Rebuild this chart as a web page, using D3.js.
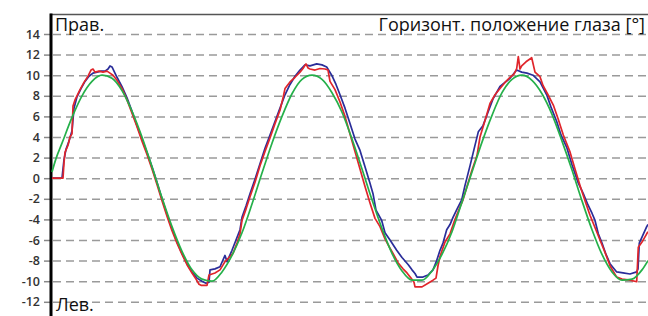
<!DOCTYPE html>
<html>
<head>
<meta charset="utf-8">
<script src="https://cdn.jsdelivr.net/npm/d3@7"></script>
<style>
  body { margin: 0; background: #fff; }
  svg { display: block; }
</style>
</head>
<body>
<svg width="648" height="316"></svg>
<script>
  // tick values on the y axis (degrees)
  const yTicks = [-12, -10, -8, -6, -4, -2, 0, 2, 4, 6, 8, 10, 12, 14];

  // green: target (stimulus) position
  const greenT = [2, 6, 12, 22, 32, 42, 52, 62, 72, 82, 92, 102, 112, 122, 132, 142, 152, 162, 172, 182,
    192, 202, 212, 222, 232, 242, 252, 262, 272, 282, 292, 302, 312, 322, 332, 342, 352, 362, 372, 382,
    392, 402, 412, 422, 432, 442, 452, 462, 472, 482, 492, 502, 512, 522, 532, 542, 552, 562, 572, 582,
    592, 598];
  const greenV = [0.6, 1.9, 3.4, 5.9, 8.0, 9.4, 10.0, 9.7, 8.5, 6.5, 4.0, 1.1, -1.9, -4.7, -7.1, -8.9,
    -9.8, -10.0, -9.1, -7.5, -5.3, -2.5, 0.5, 3.4, 6.0, 8.2, 9.6, 10.0, 9.6, 8.3, 6.4, 3.8, 0.9, -2.1,
    -4.9, -7.3, -9.0, -9.9, -9.9, -9.0, -7.4, -5.2, -2.3, 0.6, 3.5, 6.1, 8.3, 9.6, 10.0, 9.5, 8.2, 6.2,
    3.6, 0.8, -2.2, -5.0, -7.4, -9.1, -9.9, -9.8, -8.9, -8.0];

  // red: right eye
  const redT = [2, 13, 14, 15, 18, 20, 22, 23, 25, 27, 30, 34, 38, 41, 43, 45, 49, 53, 57, 60, 63, 67, 72,
    77, 82, 87, 92, 97, 102, 107, 112, 117, 122, 127, 132, 137, 142, 146, 149, 151, 157, 159, 165, 170, 175,
    179, 183, 187, 190, 192, 196, 200, 205, 210, 215, 220, 225, 230, 233, 235, 240, 245, 250, 253, 256,
    258, 260, 265, 270, 275, 278, 280, 285, 290, 295, 300, 305, 310, 315, 320, 325, 330, 335, 340, 343,
    348, 353, 357, 361, 364, 365, 372, 378, 383, 386, 388, 390, 395, 400, 405, 410, 413, 417, 422, 427,
    430, 435, 440, 445, 450, 455, 460, 464, 466.7, 468.3, 470, 471.7, 476, 481.7, 485, 490, 493, 498,
    503.3, 508, 513.3, 520, 525, 530, 535, 540, 546.7, 550, 555, 560, 566.7, 572, 580, 586.7, 588.3, 592,
    596.7, 598];
  const redV = [0, 0, 1.5, 2.5, 3.2, 4.0, 4.3, 7.0, 7.6, 8.0, 8.6, 9.3, 9.9, 10.5, 10.6, 10.3, 10.4, 10.3,
    10.4, 10.2, 10.0, 9.5, 8.7, 7.6, 6.3, 5.0, 3.6, 2.3, 0.9, -0.6, -2.2, -3.7, -5.1, -6.3, -7.4, -8.4,
    -9.2, -9.8, -10.3, -10.4, -10.4, -9.4, -9.2, -8.9, -8.1, -7.7, -7.3, -6.3, -5.4, -4.1, -3.0, -1.8, -0.4,
    1.2, 2.6, 3.9, 5.3, 6.6, 7.8, 8.7, 9.35, 9.8, 10.3, 10.65, 11.1, 10.7, 10.6, 10.5, 10.65, 10.6, 10.5,
    9.4, 8.6, 7.4, 6.0, 4.3, 2.6, 0.9, -0.8, -2.4, -3.9, -4.7, -5.9, -6.8, -7.3, -8.2, -8.8, -9.2, -9.7,
    -10.1, -10.55, -10.55, -10.2, -9.9, -9.7, -8.5, -7.6, -6.2, -5.4, -4.0, -2.8, -2.1, -0.8, 0.8, 2.2,
    4.0, 5.6, 7.25, 8.1, 8.7, 9.3, 9.8, 10.1, 10.65, 11.8, 10.6, 10.9, 11.3, 11.7, 10.3, 9.85, 9.0, 8.1,
    7.1, 5.8, 4.2, 2.55, 0.9, -0.7, -2.2, -3.6, -5.2, -6.0, -7.2, -8.5, -9.6, -9.8, -9.9, -10.05, -6.7,
    -6.2, -5.4, -5.2];

  // blue: left eye
  const blueT = [2, 12, 14, 16, 19, 22, 24, 27, 31, 35, 39, 43, 47, 51, 55, 58, 60, 62, 64, 67, 72, 77, 82,
    87, 92, 97, 102, 107, 112, 117, 122, 127, 132, 137, 142, 147, 152, 156, 159, 160, 165, 170, 175, 177,
    182, 186, 190, 192, 196, 200, 205, 210, 215, 220, 225, 230, 235, 240, 245, 250, 255, 260, 266.7, 272,
    276.7, 281.7, 286, 290, 295, 300, 305, 310, 315, 320, 323, 326, 331.7, 335, 340, 346.7, 352, 358.3,
    362, 365, 367, 373, 378, 383, 386.7, 390, 393, 396.7, 400, 403, 407, 411.7, 415, 420, 424, 428.3, 433,
    438, 443, 450, 455, 460, 466.7, 471.7, 477, 483, 490, 496.7, 501, 506.7, 511, 516.7, 522, 528, 533.3,
    538, 542, 545, 548.3, 552, 556, 560, 566.7, 573, 580, 586.7, 588, 589.3, 593, 596.7, 598];
  const blueV = [0, 0, 1.8, 2.8, 3.6, 4.6, 6.8, 7.9, 8.7, 9.4, 9.9, 10.2, 10.3, 10.4, 10.4, 10.6, 10.9,
    10.8, 10.4, 9.8, 8.9, 7.8, 6.5, 5.1, 3.8, 2.5, 1.1, -0.4, -2.0, -3.5, -4.9, -6.2, -7.3, -8.3, -9.1,
    -9.7, -10.0, -10.2, -10.1, -8.9, -8.8, -8.6, -7.5, -8.1, -7.0, -6.0, -5.0, -3.8, -2.7, -1.5, -0.1, 1.4,
    2.9, 4.2, 5.5, 6.8, 8.1, 9.1, 9.9, 10.5, 11.0, 10.9, 11.1, 11.0, 10.8, 10.0, 9.1, 8.1, 6.8, 5.3, 3.8,
    2.7, 1.1, -0.5, -1.5, -3.1, -4.1, -5.3, -6.0, -7.0, -7.7, -8.4, -8.9, -9.25, -9.6, -9.6, -9.4, -8.9,
    -8.0, -7.0, -6.3, -5.0, -4.5, -3.8, -3.0, -2.1, -0.7, 1.2, 2.8, 4.5, 5.1, 6.4, 7.7, 8.9, 9.3, 9.7,
    10.5, 10.3, 10.2, 10.0, 9.35, 8.1, 6.9, 5.5, 4.2, 3.0, 1.3, -0.4, -1.5, -2.6, -3.4, -4.1, -5.4, -6.3,
    -7.4, -8.3, -9.1, -9.2, -9.3, -9.1, -8.8, -6.3, -5.5, -4.7, -4.5];

  const svg = d3.select('svg');
  const width = +svg.attr('width');
  const height = +svg.attr('height');

  const x = d3.scaleLinear().domain([0, 598]).range([50, 648]);
  const y = d3.scaleLinear().domain([-12, 14]).range([301.8, 34]);

  // dashed grid lines
  const gridG = svg.append('g').attr('transform', 'translate(53,0)');
  gridG.call(d3.axisLeft(y).tickValues(yTicks).tickSize(-(width - 53)).tickFormat(''));
  gridG.select('.domain').remove();
  gridG.selectAll('line')
    .attr('stroke', '#9a9a9a')
    .attr('stroke-width', 1.5)
    .attr('stroke-dasharray', '8,5');

  // y axis with short ticks and labels (plain hyphen minus, as in the original)
  const axisG = svg.append('g').attr('transform', 'translate(50,0)');
  axisG.call(d3.axisLeft(y).tickValues(yTicks).tickSize(6).tickPadding(4).tickFormat(d => String(d)));
  axisG.select('.domain').remove();
  axisG.selectAll('line').attr('stroke', '#888').attr('stroke-width', 1.5);
  axisG.selectAll('text')
    .attr('fill', '#333')
    .style('font-family', '"Open Sans", sans-serif')
    .style('font-weight', 600)
    .style('font-size', '12.5px');

  // top border and thick left axis line
  svg.append('line')
    .attr('x1', 50).attr('x2', width)
    .attr('y1', 14.5).attr('y2', 14.5)
    .attr('stroke', '#555').attr('stroke-width', 1.5);
  svg.append('line')
    .attr('x1', 51).attr('x2', 51)
    .attr('y1', 13.5).attr('y2', height)
    .attr('stroke', '#000').attr('stroke-width', 3);

  const series = [
    { t: blueT, v: blueV, color: '#2a2d99', curve: d3.curveLinear },
    { t: redT, v: redV, color: '#e0252b', curve: d3.curveLinear },
    { t: greenT, v: greenV, color: '#25b04a', curve: d3.curveMonotoneX }
  ];

  const linesG = svg.append('g');
  series.forEach(s => {
    const line = d3.line()
      .x((d, i) => x(s.t[i]))
      .y(d => y(d))
      .curve(s.curve);
    linesG.append('path')
      .attr('d', line(s.v))
      .attr('fill', 'none')
      .attr('stroke', s.color)
      .attr('stroke-width', 1.7)
      .attr('stroke-linejoin', 'round');
  });

  // labels
  const label = (text, px, py, anchor) => svg.append('text')
    .attr('x', px).attr('y', py)
    .attr('text-anchor', anchor)
    .style('font-family', '"Open Sans", sans-serif')
    .style('font-size', '18px')
    .attr('fill', '#111')
    .text(text);

  label('Прав.', 55, 31, 'start');
  label('Горизонт. положение глаза [°]', 645, 31, 'end');
  label('Лев.', 56, 311, 'start');
</script>
</body>
</html>
